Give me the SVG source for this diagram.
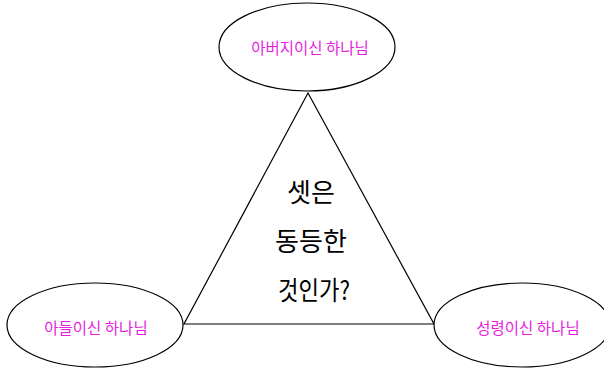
<svg xmlns="http://www.w3.org/2000/svg" width="604" height="368" viewBox="0 0 604 368">
<style>
.node ellipse{fill:#fff;stroke:#000;stroke-width:1.2}
.lbl{font-family:"Noto Sans CJK KR","Noto Sans",sans-serif;font-size:15.5px;fill:#e61ee0;text-anchor:middle}
.center{font-family:"Noto Sans CJK KR","Noto Sans",sans-serif;font-size:26px;fill:#000;text-anchor:middle}
</style>
<rect width="604" height="368" fill="#fff"/>
<g id="connectors" fill="none" stroke="#000" stroke-width="1.2">
<polygon points="308,93 184,324 434,324"/>
</g>
<g id="triangle-label">
<text class="center" x="311" y="202">셋은</text>
<text class="center" x="311" y="251">동등한</text>
<text class="center" x="314" y="300" textLength="72" lengthAdjust="spacingAndGlyphs">것인가?</text>
</g>
<g id="father" class="node">
<ellipse cx="307" cy="47" rx="88" ry="44"/>
<text class="lbl" x="310" y="54">아버지이신 하나님</text>
</g>
<g id="son" class="node">
<ellipse cx="95" cy="325" rx="88" ry="42"/>
<text class="lbl" x="96" y="334">아들이신 하나님</text>
</g>
<g id="spirit" class="node">
<ellipse cx="522" cy="325" rx="88" ry="42"/>
<text class="lbl" x="528" y="334">성령이신 하나님</text>
</g>
</svg>
